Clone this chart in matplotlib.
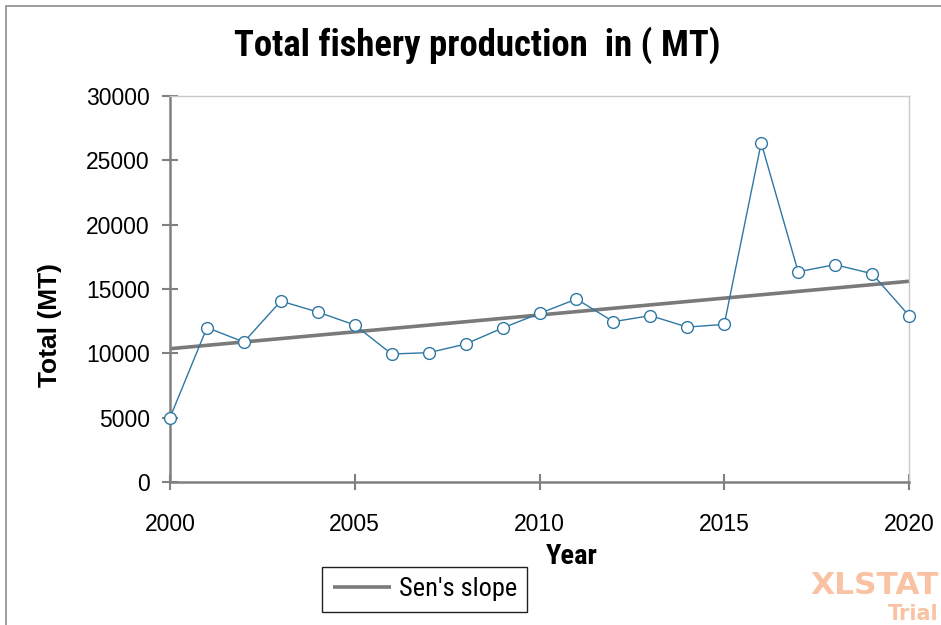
import matplotlib.pyplot as plt
from matplotlib.patches import Rectangle
from matplotlib import font_manager
import numpy as np

# Data
years = list(range(2000, 2021))
total_mt = [5000, 12000, 10880, 14060, 13210, 12200, 9950, 10050, 10720, 11970,
            13100, 14220, 12460, 12930, 12040, 12250, 26360, 16340, 16890, 16190, 12930]
sen_intercept = 10360   # value of the Sen's slope line at 2000
sen_slope = 262         # MT per year

x_ticks = [2000, 2005, 2010, 2015, 2020]
y_ticks = [0, 5000, 10000, 15000, 20000, 25000, 30000]

# pick a narrow face if one is installed
installed = {f.name for f in font_manager.fontManager.ttflist}
narrow = next((n for n in ['Liberation Sans Narrow', 'Roboto Condensed', 'Open Sans Condensed',
                           'Arial Narrow', 'Roboto', 'Liberation Sans'] if n in installed), 'DejaVu Sans')
is_narrow = narrow in ('Liberation Sans Narrow', 'Roboto Condensed', 'Open Sans Condensed', 'Arial Narrow')

plt.rcParams['font.family'] = ['Liberation Sans', 'DejaVu Sans']

fig = plt.figure(figsize=(9.41, 6.25), dpi=100)
fig.patch.set_facecolor('w')
ax = fig.add_axes([170 / 941, 1 - 482 / 625, (909 - 170) / 941, (482 - 96) / 625])

# outer frame of the chart object
fig.add_artist(Rectangle((6 / 941, -0.1), 1.2, (625 - 6) / 625 + 0.1,
                         transform=fig.transFigure, fill=False, ec='#8c8c8c', lw=1.2))

# observed series
blue = '#2f77a3'
ax.plot(years, total_mt, color=blue, lw=1.0, marker='o', ms=8.5,
        mfc='white', mec=blue, mew=1.0, zorder=3, clip_on=False)

# Sen's slope trend
yrs = np.array(years)
ax.plot(yrs, sen_intercept + sen_slope * (yrs - yrs[0]), color='#7a7a7a', lw=2.6,
        label="Sen's slope", zorder=2, solid_capstyle='butt')

ax.set_xlim(2000, 2020)
ax.set_ylim(0, 30000)
ax.set_xticks(x_ticks)
ax.set_yticks(y_ticks)
ax.tick_params(axis='both', direction='inout', length=11, width=1.5, color='#808080',
               labelsize=16.5)
ax.tick_params(axis='x', pad=17)
ax.tick_params(axis='y', pad=9)

for s in ['left', 'bottom']:
    ax.spines[s].set_color('#808080')
    ax.spines[s].set_linewidth(1.8)
for s in ['top', 'right']:
    ax.spines[s].set_color('#c8c8c8')
    ax.spines[s].set_linewidth(1.0)

ax.set_xlabel('Year', fontsize=20.5 if is_narrow else 17, fontweight='bold', family=[narrow, 'DejaVu Sans'])
ax.xaxis.set_label_coords((572 - 170) / (909 - 170), -(557 - 482) / (482 - 96))
ax.xaxis.label.set_va('center')
ax.set_ylabel('Total (MT)', fontsize=19, fontweight='bold')
ax.yaxis.set_label_coords(-(170 - 50) / (909 - 170), (482 - 325) / (482 - 96))
ax.yaxis.label.set_va('center')

fig.text(477 / 941, 1 - 45 / 625, 'Total fishery production  in ( MT)', ha='center', va='center',
         fontsize=26.5 if is_narrow else 19.5, fontweight='bold', family=[narrow, 'DejaVu Sans'])

leg = ax.legend(loc='lower left', bbox_to_anchor=(322 / 941, 13 / 625), bbox_transform=fig.transFigure,
                fancybox=False, framealpha=1, edgecolor='#202020', handlelength=2.2,
                handletextpad=0.3, borderpad=0.4, borderaxespad=0,
                prop={'family': [narrow, 'DejaVu Sans'], 'size': 19 if is_narrow else 16.5})
leg.get_frame().set_linewidth(1.0)

# trial watermark
fig.text(939 / 941, 1 - 586 / 625, 'XLSTAT', color='#f9c2a2', fontsize=22.5, fontweight='bold',
         family='DejaVu Sans', ha='right', va='center')
fig.text(939 / 941, 1 - 614 / 625, 'Trial', color='#f9c2a2', fontsize=15, fontweight='bold',
         family='DejaVu Sans', ha='right', va='center')

fig.savefig('out.png', dpi=100)
